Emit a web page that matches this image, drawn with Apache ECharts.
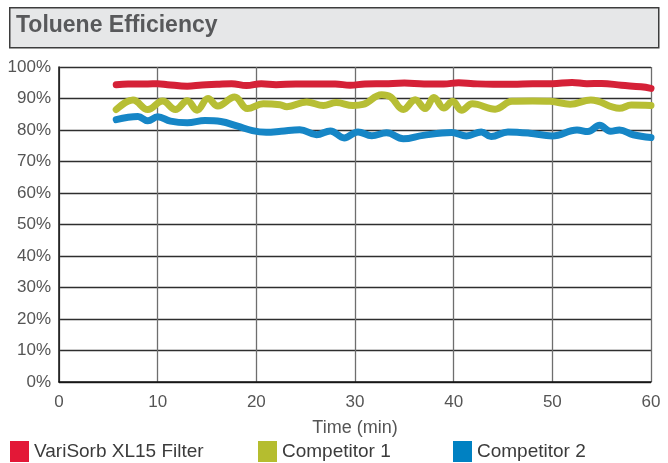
<!DOCTYPE html>
<html><head><meta charset="utf-8">
<script src="https://cdn.jsdelivr.net/npm/echarts@6/dist/echarts.min.js"></script>
<style>html,body{margin:0;padding:0;background:#fff}#c{width:668px;height:463px}</style>
</head><body><div id="c"></div>
<script>
const title = 'Toluene Efficiency';
const seriesNames = ['VariSorb XL15 Filter', 'Competitor 1', 'Competitor 2'];
const xTicks = [0, 10, 20, 30, 40, 50, 60];
const yTicks = [0, 10, 20, 30, 40, 50, 60, 70, 80, 90, 100];

const variSorb = [[5.8,94.4],[7,94.6],[9,94.6],[10,94.7],[11,94.4],[13,93.9],[14.5,94.3],[16,94.5],[17.5,94.7],[19,94.1],[20.5,94.7],[22,94.4],[24,94.6],[26,94.6],[28,94.6],[29.5,94.2],[31,94.6],[33,94.7],[35,94.9],[37,94.6],[39,94.6],[40.5,95],[42,94.7],[44,94.5],[46,94.5],[48,94.7],[50,94.7],[52,95.1],[53.5,94.7],[55,94.8],[57,94.2],[59,93.7],[60,93.2]];

const competitor1 = [[5.8,86.5],[7.5,89.5],[9,86.5],[10.5,89.2],[11.8,86.5],[13,89.3],[14,86.3],[15.1,90],[16.1,87.6],[17.8,90.5],[19.1,86.8],[20.7,88.3],[22.4,88],[23.1,87.4],[25.1,88.9],[26.8,87.8],[28.1,88.7],[29.8,87.8],[30.8,88.1],[32.7,91.2],[33.6,90.5],[34.9,86.5],[36.1,89.6],[37.1,86.8],[38,90.3],[39,87],[39.9,89.1],[40.8,86.3],[41.9,88.3],[44.2,86.6],[45.9,89.1],[48,89.2],[49.8,89.1],[51.8,88.2],[53.9,89.5],[56.8,86.9],[58,87.9],[60,87.8]];

const competitor2 = [[5.8,83.3],[8,84.3],[9,82.9],[10,84.2],[11.3,82.8],[13,82.3],[14.8,83],[16.4,82.7],[18.1,81.2],[19.6,79.8],[21,79.3],[22.5,79.6],[24.4,80.1],[26.1,78.5],[27.5,79.7],[28.9,77.5],[30.3,79.4],[31.7,78.2],[33.2,79.1],[34.9,77.2],[36.9,78.3],[39.8,79.2],[41.3,78.1],[42.8,79.4],[43.8,77.9],[45.5,79.4],[47.7,79],[50,78.1],[52.5,80],[53.6,79.5],[54.8,81.5],[55.9,79.6],[56.8,80],[58.2,78.5],[60,77.6]];

const colors = ['#d52137', '#b7be34', '#1686c6'];
const swatch = ['#e31837', '#b5bd2f', '#0081c2'];
const FONT = '"Liberation Sans", Arial, sans-serif';

const chart = echarts.init(document.getElementById('c'), null, {renderer: 'canvas'});
const dataSets = [variSorb, competitor1, competitor2];
const legendLefts = [5, 253, 448];

chart.setOption({
  animation: false,
  backgroundColor: '#ffffff',
  graphic: [
    {type: 'rect', left: 9, top: 7, shape: {width: 649, height: 40},
     style: {fill: '#e6e7e8', stroke: '#3d3d3d', lineWidth: 1.5}},
    {type: 'text', left: 16, top: 14,
     style: {text: title, fill: '#58595b', font: 'bold 23px "Liberation Sans", Arial, sans-serif'}}
  ],
  grid: {left: 59, right: 17, top: 67, bottom: 81},
  legend: seriesNames.map((n, i) => ({
    data: [{name: n, icon: 'rect', itemStyle: {color: swatch[i]}}],
    left: legendLefts[i], top: 436,
    itemWidth: 19, itemHeight: 21, itemGap: 5,
    textStyle: {fontSize: 19, color: '#3b3b3b', fontFamily: FONT, padding: [3, 0, 0, 0]}
  })),
  xAxis: {
    type: 'value', min: 0, max: 60, interval: 10,
    name: 'Time (min)', nameLocation: 'middle', nameGap: 37,
    nameTextStyle: {fontSize: 18, color: '#555', fontFamily: FONT},
    axisLine: {show: true, lineStyle: {color: '#111', width: 1.5}},
    axisTick: {show: false},
    axisLabel: {fontSize: 17, color: '#555', fontFamily: FONT, margin: 12,
      formatter: v => xTicks.includes(v) ? String(v) : ''},
    splitLine: {show: true, lineStyle: {color: '#6e6e6e', width: 1.3}}
  },
  yAxis: {
    type: 'value', min: 0, max: 100, interval: 10,
    axisLine: {show: true, lineStyle: {color: '#111', width: 1.5}},
    axisTick: {show: false},
    axisLabel: {fontSize: 17, color: '#555', fontFamily: FONT, margin: 8,
      formatter: v => yTicks.includes(v) ? v + '%' : ''},
    splitLine: {show: true, lineStyle: {color: '#2e2e2e', width: 1.3}}
  },
  series: seriesNames.map((n, i) => ({
    name: n, type: 'line', data: dataSets[i], smooth: 0.4, showSymbol: false,
    lineStyle: {color: colors[i], width: 7, cap: 'round', join: 'round'},
    itemStyle: {color: swatch[i]},
    z: 3 - i
  }))
});
</script></body></html>
